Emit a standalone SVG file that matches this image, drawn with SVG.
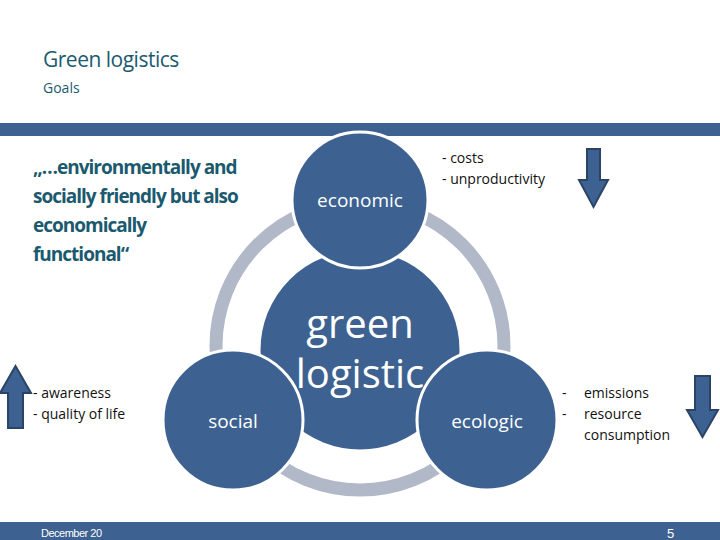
<svg xmlns="http://www.w3.org/2000/svg" width="720" height="540" viewBox="0 0 720 540">
<style>
.c{fill:#3D6190;stroke:#fff;stroke-width:3}
.t{font-family:"Open Sans","DejaVu Sans",sans-serif;fill:#fff}
.b{font-family:"Open Sans","DejaVu Sans",sans-serif;fill:#111;font-size:14px}
.q{font-family:"Open Sans","Liberation Sans",sans-serif;fill:#1B5A6E;font-size:19px;font-weight:bold;letter-spacing:-1px}
.ar{fill:#3D6190;stroke:#2B4466;stroke-width:2}
</style>
<rect width="720" height="540" fill="#fff"/>
<text x="43" y="67" font-family="Open Sans,Liberation Sans,sans-serif" font-size="21" fill="#1B5A6E" letter-spacing="-0.5">Green logistics</text>
<text x="43" y="93" font-family="Open Sans,Liberation Sans,sans-serif" font-size="14" fill="#1B5A6E">Goals</text>
<rect x="0" y="123" width="720" height="13" fill="#3D6190"/>
<g id="quote"><text class="q" x="33" y="174">„…environmentally and</text><text class="q" x="33" y="203">socially friendly but also</text><text class="q" x="33" y="232">economically</text><text class="q" x="33" y="261">functional“</text></g>
<g id="connectors"><circle cx="360" cy="346" r="144" fill="none" stroke="#B1B8C7" stroke-width="13"/></g>
<g id="green"><circle class="c" cx="360" cy="350" r="101"/><text class="t" x="360" y="338" font-size="40" text-anchor="middle">green</text><text class="t" x="360" y="388" font-size="40" text-anchor="middle">logistic</text></g>
<g id="economic"><circle class="c" cx="360" cy="200" r="68"/><text class="t" x="360" y="207" font-size="19" text-anchor="middle">economic</text></g>
<g id="social"><circle class="c" cx="233" cy="420" r="70"/><text class="t" x="233" y="428" font-size="19" text-anchor="middle">social</text></g>
<g id="ecologic"><circle class="c" cx="487" cy="420" r="70"/><text class="t" x="487" y="428" font-size="19" text-anchor="middle">ecologic</text></g>
<g id="econ-list"><text class="b" x="442" y="163">-   costs</text><text class="b" x="442" y="184">-   unproductivity</text></g>
<g id="soc-list"><text class="b" x="33" y="398">-   awareness</text><text class="b" x="33" y="419">-   quality of life</text></g>
<g id="eco-list"><text class="b" x="562" y="398">-</text><text class="b" x="562" y="419">-</text><text class="b" x="584" y="398">emissions</text><text class="b" x="584" y="419">resource</text><text class="b" x="584" y="440">consumption</text></g>
<polygon class="ar" points="587,149 600,149 600,180 608,180 593.5,207 579,180 587,180"/>
<polygon class="ar" points="695,376 710,376 710,410 718,410 702.5,437 687,410 695,410"/>
<polygon class="ar" points="8,428 23,428 23,393 31,393 15.5,366 0,393 8,393"/>
<rect x="0" y="522" width="720" height="18" fill="#3D6190"/>
<text x="41" y="537" font-family="Liberation Sans Narrow,Liberation Sans,sans-serif" font-size="11" fill="#fff" letter-spacing="-0.5">December 20</text>
<text x="667" y="538" font-family="Liberation Sans,sans-serif" font-size="13" fill="#fff">5</text>
</svg>
